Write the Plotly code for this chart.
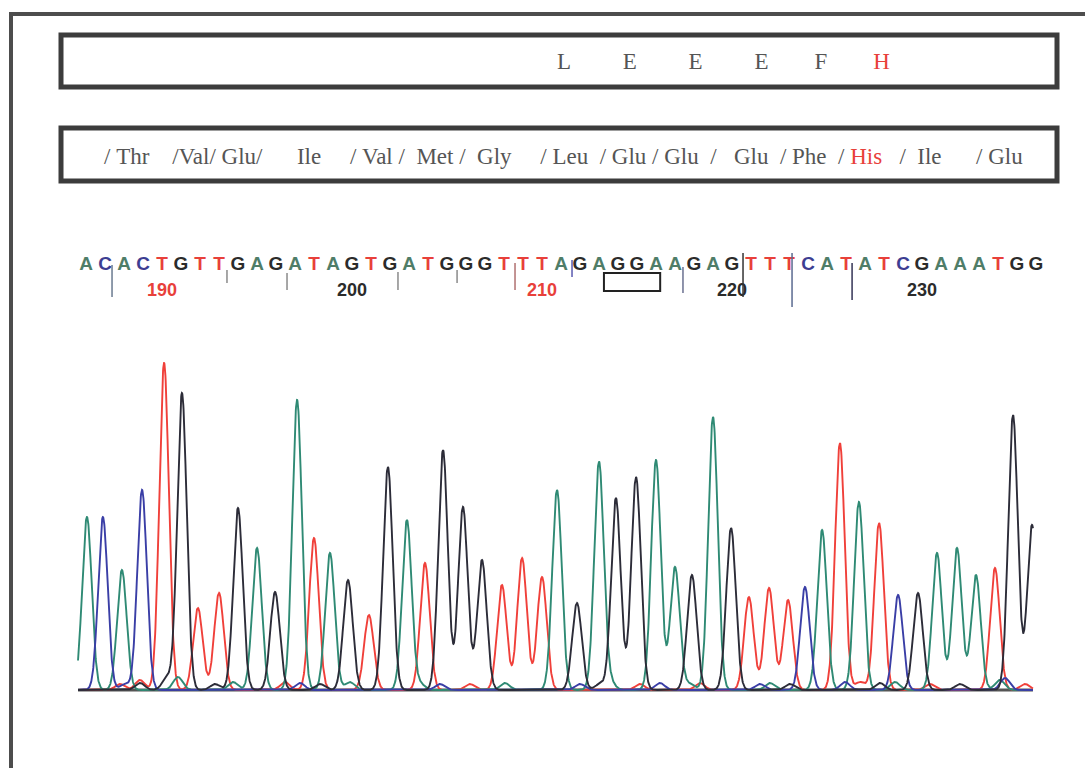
import numpy as np
import plotly.graph_objects as go

W, H = 1085, 768

# ---------------- data ----------------
first_base = 186
sequence = "ACACTGTTGAGATAGTGATGGGTTTAGAGGAAGAGTTTCATATCGAAATGG"
tick_positions = [190, 200, 210, 220, 230]
top_letters = ["L", "E", "E", "E", "F", "H"]
mutant_letter = "H"
aa_tokens = ["/", "Thr", "/Val/", "Glu/", "Ile", "/", "Val", "/", "Met", "/", "Gly", "/",
             "Leu", "/", "Glu", "/", "Glu", "/", "Glu", "/", "Phe", "/", "His", "/", "Ile", "/", "Glu"]
aa_gaps = [1, 4, 1, 6, 5, 1, 1, 2, 1, 2, 5, 1, 2, 1, 1, 1, 2, 3, 2, 1, 2, 1, 3, 2, 6, 1]
top_gaps = [9, 9, 9, 8, 8]
mutant_aa = "His"
boxed_bases = (214, 216)

# peak centres (base units) and heights (signal units) for each dye channel
A_pos = [186.05, 187.89, 195.0, 197.11, 198.84, 202.89, 210.79, 213.0, 216.0, 217.0, 219.0,
         224.74, 226.68, 230.79, 231.84, 232.84]
A_h = [173, 120, 142, 290, 137, 170, 200, 228, 230, 123, 273, 160, 188, 137, 142, 115]
C_pos = [186.89, 188.95, 223.84, 228.74]
C_h = [173, 200, 103, 95]
G_pos = [191.05, 194.0, 195.95, 199.79, 201.89, 204.79, 205.84, 206.84, 211.84, 213.89,
         214.95, 217.89, 219.95, 229.79, 234.79, 235.79]
G_h = [297, 182, 98, 110, 223, 240, 183, 130, 87, 192, 213, 115, 162, 97, 275, 165]
T_pos = [190.11, 191.89, 193.0, 198.0, 200.89, 203.84, 207.89, 208.95, 210.0, 220.89,
         221.95, 222.95, 225.68, 227.74, 233.84]
T_h = [327, 82, 97, 152, 75, 127, 105, 132, 113, 93, 102, 90, 247, 167, 122]

# small background bumps
A_minor_pos = [190.84, 193.74, 199.89, 203.58, 208.05, 213.58, 217.79, 222.0, 228.58, 234.1]
A_minor_h = [13, 8, 8, 6, 7, 8, 6, 7, 8, 10]
C_minor_pos = [188.05, 197.26, 204.63, 212.0, 216.21, 221.47, 225.95, 234.37]
C_minor_h = [6, 7, 6, 6, 7, 6, 8, 12]
G_minor_pos = [188.84, 190.26, 192.79, 198.32, 213.05, 223.05, 227.79, 232.0]
G_minor_h = [7, 12, 6, 6, 6, 6, 7, 6]
T_minor_pos = [187.79, 188.84, 196.47, 206.21, 215.16, 218.32, 226.74, 230.42, 235.42]
T_minor_h = [6, 10, 8, 6, 6, 7, 8, 6, 6]

trace_start, trace_end = 185.58, 235.84

# base-call marker ticks (base position, top px, bottom px)
call_marks = [(187.37, 265, 297), (193.42, 270, 283), (196.58, 273, 290), (202.42, 272, 290),
              (205.53, 270, 283), (208.58, 263, 290), (211.58, 260, 277), (217.42, 267, 293),
              (220.58, 253, 297), (223.16, 253, 307), (226.32, 263, 300)]
mark_colors = ["#6a7a90", "#8a8a8a", "#8a8a8a", "#8a8a8a", "#8a8a8a", "#b07070",
               "#5a5ab0", "#6a7090", "#333333", "#5a6a90", "#333355"]

# ---------------- styling ----------------
dye_color = {"A": "#2f8a74", "C": "#3a3ea6", "G": "#2c2c38", "T": "#f0403a"}
letter_color = {"A": "#4f7d68", "C": "#3d3d92", "G": "#2b2b2b", "T": "#e8403a"}
SIGMA = 0.25
PX_PER_BASE = 19
BASE0_PX = 86
BASELINE_PX = 690

def px(x):
    return x / W

def py(y):
    return 1 - y / H

def ydata(ypx):
    return BASELINE_PX - ypx

fig = go.Figure()

xs = np.linspace(trace_start, trace_end, 4000)

def curve(pos, h, mpos, mh):
    y = np.zeros_like(xs)
    for p, a in zip(list(pos) + list(mpos), list(h) + list(mh)):
        y += a * np.exp(-((xs - p) ** 2) / (2 * SIGMA ** 2))
    return y

# baseline
fig.add_trace(go.Scatter(x=[trace_start, trace_end], y=[0, 0], mode="lines",
                         line=dict(color="#555555", width=3), hoverinfo="skip", showlegend=False))

channels = [("T", T_pos, T_h, T_minor_pos, T_minor_h),
            ("A", A_pos, A_h, A_minor_pos, A_minor_h),
            ("C", C_pos, C_h, C_minor_pos, C_minor_h),
            ("G", G_pos, G_h, G_minor_pos, G_minor_h)]
for name, pos, h, mpos, mh in channels:
    fig.add_trace(go.Scatter(x=xs, y=curve(pos, h, mpos, mh), mode="lines",
                             line=dict(color=dye_color[name], width=1.9),
                             hoverinfo="skip", showlegend=False, name=name))

# sequence letters
seq_x = [first_base + i for i in range(len(sequence))]
fig.add_trace(go.Scatter(x=seq_x, y=[ydata(265)] * len(sequence), mode="text",
                         text=list(sequence),
                         textfont=dict(family="Liberation Sans", size=19, weight="bold",
                                       color=[letter_color[b] for b in sequence]),
                         hoverinfo="skip", showlegend=False))

# position numbers coloured by the base at that position
fig.add_trace(go.Scatter(x=tick_positions, y=[ydata(291)] * len(tick_positions), mode="text",
                         text=[str(t) for t in tick_positions],
                         textfont=dict(family="Liberation Sans", size=18, weight="bold",
                                       color=[letter_color[sequence[t - first_base]] for t in tick_positions]),
                         hoverinfo="skip", showlegend=False))

shapes = []
# outer frame
shapes.append(dict(type="line", xref="paper", yref="paper", x0=px(11), x1=px(11), y0=py(12), y1=py(H + 5),
                   line=dict(color="#4d4d4d", width=4)))
shapes.append(dict(type="line", xref="paper", yref="paper", x0=px(9), x1=px(W + 5), y0=py(14), y1=py(14),
                   line=dict(color="#4d4d4d", width=4)))
# two label boxes
for (t, b) in [(35, 87), (128, 181)]:
    shapes.append(dict(type="rect", xref="paper", yref="paper", x0=px(61), x1=px(1057), y0=py(b), y1=py(t),
                       line=dict(color="#3c3c3c", width=5), fillcolor="rgba(0,0,0,0)"))
# box under codon
shapes.append(dict(type="rect", xref="x", yref="paper", x0=boxed_bases[0] - 0.74, x1=boxed_bases[1] + 0.22,
                   y0=py(291), y1=py(273), line=dict(color="#222222", width=2)))
# base call marks
for (b, t, bt), c in zip(call_marks, mark_colors):
    shapes.append(dict(type="line", xref="x", yref="y", x0=b, x1=b, y0=ydata(bt), y1=ydata(t),
                       line=dict(color=c, width=1.5)))

NB = "\u00a0"
top_txt = ""
for i, l in enumerate(top_letters):
    piece = l if l != mutant_letter else f"<span style='color:#e8403a'>{l}</span>"
    top_txt += piece + (NB * top_gaps[i] if i < len(top_gaps) else "")

aa_txt = ""
for i, tkn in enumerate(aa_tokens):
    piece = tkn if tkn != mutant_aa else f"<span style='color:#e8403a'>{tkn}</span>"
    aa_txt += piece + (NB * aa_gaps[i] if i < len(aa_gaps) else "")

annotations = [
    dict(xref="paper", yref="paper", x=px(555), y=py(61), xanchor="left", yanchor="middle",
         text=top_txt, showarrow=False, font=dict(family="Liberation Serif", size=23, color="#555555")),
    dict(xref="paper", yref="paper", x=px(102), y=py(156), xanchor="left", yanchor="middle",
         text=aa_txt, showarrow=False, font=dict(family="Liberation Serif", size=23, color="#555555")),
]

fig.update_layout(
    width=W, height=H, margin=dict(l=0, r=0, t=0, b=0),
    paper_bgcolor="white", plot_bgcolor="white",
    xaxis=dict(range=[first_base - BASE0_PX / PX_PER_BASE, first_base + (W - BASE0_PX) / PX_PER_BASE],
               visible=False, domain=[0, 1]),
    yaxis=dict(range=[-(H - BASELINE_PX), BASELINE_PX], visible=False, domain=[0, 1]),
    shapes=shapes, annotations=annotations, showlegend=False,
)

fig.write_html("out.html", config={"displayModeBar": False},
               post_script="document.body.style.margin='0px';document.body.style.overflow='hidden';")
